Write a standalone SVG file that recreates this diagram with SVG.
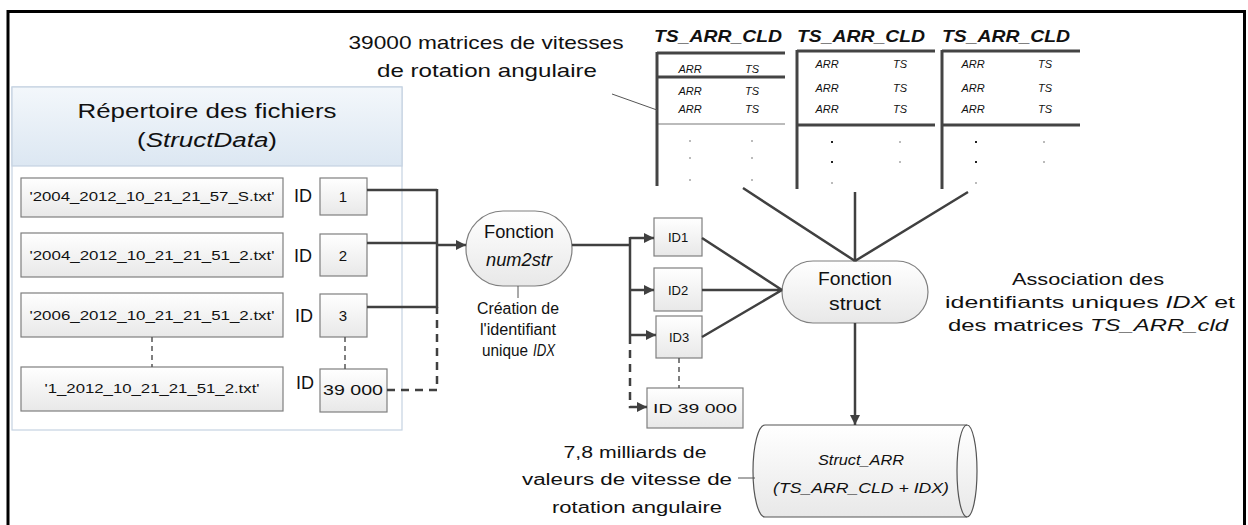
<svg xmlns="http://www.w3.org/2000/svg" width="1248" height="525" viewBox="0 0 1248 525">
<defs>
<linearGradient id="gBox" x1="0" y1="0" x2="0" y2="1"><stop offset="0" stop-color="#ffffff"/><stop offset="1" stop-color="#e8e8e8"/></linearGradient>
<linearGradient id="gHead" x1="0" y1="0" x2="0" y2="1"><stop offset="0" stop-color="#f3f7fb"/><stop offset="1" stop-color="#dce7f2"/></linearGradient>
<marker id="arr" viewBox="0 0 10 10" refX="10" refY="5" markerWidth="11" markerHeight="10" markerUnits="userSpaceOnUse" orient="auto"><path d="M0,0 L10,5 L0,10 z" fill="#404040"/></marker>
</defs>
<style>
.t{font-family:"Liberation Sans",Arial,sans-serif;fill:#111}
.lab{font-size:18px}
.sm{font-size:12px}
.tb{font-size:11px;font-style:italic}
.ttl{font-size:17px;font-weight:bold;font-style:italic}
.i{font-style:italic}
.box{fill:url(#gBox);stroke:#7f7f7f;stroke-width:1.2}
.c{fill:none;stroke:#404040;stroke-width:2.5}
.d{fill:none;stroke:#404040;stroke-width:2.5;stroke-dasharray:8,6}
.ds{fill:none;stroke:#555;stroke-width:1.5;stroke-dasharray:5,4}
.lead{fill:none;stroke:#555;stroke-width:1}
.tl{stroke:#444;stroke-width:3}
.tg{stroke:#bbb;stroke-width:2}
.dot{fill:#222}
.dotg{fill:#bbb}
</style>

<path d="M8,530 V11.5 H1244.5 V530" fill="none" stroke="#000" stroke-width="3"/>

<g id="repertoire">
<rect x="12" y="87" width="390" height="343" fill="#fff" stroke="#c5d3e2" stroke-width="1.2"/>
<rect x="12" y="87" width="390" height="79" fill="url(#gHead)" stroke="#c5d3e2" stroke-width="1.2"/>
<text class="t" x="207" y="118" font-size="20" text-anchor="middle" textLength="259" lengthAdjust="spacingAndGlyphs">Répertoire des fichiers</text>
<text class="t" x="207" y="147" font-size="20" text-anchor="middle" textLength="140" lengthAdjust="spacingAndGlyphs">(<tspan class="i">StructData</tspan>)</text>
</g>

<g id="file1"><rect class="box" x="21" y="178" width="262" height="39"/><text class="t sm" x="152" y="201" text-anchor="middle" textLength="245" lengthAdjust="spacingAndGlyphs">'2004_2012_10_21_21_57_S.txt'</text></g>
<g id="file2"><rect class="box" x="21" y="233" width="262" height="44"/><text class="t sm" x="152" y="260" text-anchor="middle" textLength="245" lengthAdjust="spacingAndGlyphs">'2004_2012_10_21_21_51_2.txt'</text></g>
<g id="file3"><rect class="box" x="21" y="293" width="262" height="44"/><text class="t sm" x="152" y="320" text-anchor="middle" textLength="245" lengthAdjust="spacingAndGlyphs">'2006_2012_10_21_21_51_2.txt'</text></g>
<g id="file4"><rect class="box" x="21" y="367" width="262" height="44"/><text class="t sm" x="152" y="393" text-anchor="middle" textLength="215" lengthAdjust="spacingAndGlyphs">'1_2012_10_21_21_51_2.txt'</text></g>

<g id="id1"><text class="t lab" x="303" y="202" text-anchor="middle">ID</text><rect class="box" x="320" y="178" width="47" height="37"/><text class="t" font-size="15" x="343" y="202" text-anchor="middle">1</text></g>
<g id="id2"><text class="t lab" x="303" y="262" text-anchor="middle">ID</text><rect class="box" x="320" y="234" width="47" height="42"/><text class="t" font-size="15" x="343" y="261" text-anchor="middle">2</text></g>
<g id="id3"><text class="t lab" x="304" y="322" text-anchor="middle">ID</text><rect class="box" x="320" y="294" width="47" height="43"/><text class="t" font-size="15" x="343" y="321" text-anchor="middle">3</text></g>
<g id="id4"><text class="t lab" x="305" y="389" text-anchor="middle">ID</text><rect class="box" x="320" y="369" width="67" height="43"/><text class="t" font-size="15" x="353" y="395" text-anchor="middle" textLength="60" lengthAdjust="spacingAndGlyphs">39 000</text></g>

<g id="titre">
<text class="t" x="486" y="49" font-size="19" text-anchor="middle" textLength="275" lengthAdjust="spacingAndGlyphs">39000 matrices de vitesses</text>
<text class="t" x="487" y="77" font-size="19" text-anchor="middle" textLength="220" lengthAdjust="spacingAndGlyphs">de rotation angulaire</text>
</g>

<g id="table1">
<text class="t ttl" x="654" y="42" textLength="128" lengthAdjust="spacingAndGlyphs">TS_ARR_CLD</text>
<line class="tl" x1="657" y1="53" x2="785" y2="53"/>
<line class="tl" x1="657" y1="77" x2="785" y2="77"/>
<line class="tg" x1="657" y1="124" x2="785" y2="124"/>
<line class="tl" x1="657" y1="52" x2="657" y2="186"/>
<text class="t tb" x="690" y="73" text-anchor="middle">ARR</text><text class="t tb" x="752" y="73" text-anchor="middle">TS</text>
<text class="t tb" x="690" y="95" text-anchor="middle" fill="#555">ARR</text><text class="t tb" x="752" y="95" text-anchor="middle">TS</text>
<text class="t tb" x="690" y="113" text-anchor="middle">ARR</text><text class="t tb" x="752" y="113" text-anchor="middle">TS</text>
<rect class="dotg" x="689" y="140" width="2" height="2"/><rect class="dotg" x="751" y="140" width="2" height="2"/>
<rect class="dotg" x="689" y="157" width="2" height="2"/><rect class="dotg" x="751" y="157" width="2" height="2"/>
<rect class="dotg" x="689" y="179" width="2" height="2"/><rect class="dotg" x="751" y="179" width="2" height="2"/>
</g>

<g id="table2">
<text class="t ttl" x="797" y="42" textLength="128" lengthAdjust="spacingAndGlyphs">TS_ARR_CLD</text>
<line class="tl" x1="797" y1="51" x2="935" y2="51"/>
<line class="tl" x1="797" y1="125" x2="935" y2="125"/>
<line class="tl" x1="797" y1="50" x2="797" y2="189"/>
<text class="t tb" x="827" y="68" text-anchor="middle" fill="#aaa">ARR</text><text class="t tb" x="900" y="68" text-anchor="middle" fill="#aaa">TS</text>
<text class="t tb" x="827" y="92" text-anchor="middle">ARR</text><text class="t tb" x="900" y="92" text-anchor="middle">TS</text>
<text class="t tb" x="827" y="113" text-anchor="middle">ARR</text><text class="t tb" x="900" y="113" text-anchor="middle">TS</text>
<rect class="dot" x="831" y="141" width="2" height="2"/><rect class="dotg" x="899" y="141" width="2" height="2"/>
<rect class="dot" x="831" y="161" width="2" height="2"/><rect class="dotg" x="899" y="161" width="2" height="2"/>
<rect class="dotg" x="831" y="182" width="2" height="2"/>
</g>

<g id="table3">
<text class="t ttl" x="942" y="42" textLength="128" lengthAdjust="spacingAndGlyphs">TS_ARR_CLD</text>
<line class="tl" x1="942" y1="51" x2="1080" y2="51"/>
<line class="tl" x1="942" y1="125" x2="1080" y2="125"/>
<line class="tl" x1="942" y1="50" x2="942" y2="189"/>
<text class="t tb" x="973" y="68" text-anchor="middle" fill="#aaa">ARR</text><text class="t tb" x="1045" y="68" text-anchor="middle" fill="#aaa">TS</text>
<text class="t tb" x="973" y="92" text-anchor="middle">ARR</text><text class="t tb" x="1045" y="92" text-anchor="middle">TS</text>
<text class="t tb" x="973" y="113" text-anchor="middle">ARR</text><text class="t tb" x="1045" y="113" text-anchor="middle">TS</text>
<rect class="dot" x="975" y="141" width="2" height="2"/><rect class="dotg" x="1043" y="141" width="2" height="2"/>
<rect class="dot" x="975" y="161" width="2" height="2"/><rect class="dotg" x="1043" y="161" width="2" height="2"/>
<rect class="dotg" x="975" y="182" width="2" height="2"/>
</g>

<g id="num2str">
<rect class="box" x="466" y="211" width="106" height="75" rx="37" ry="37" stroke="#666"/>
<text class="t lab" x="519" y="238" text-anchor="middle" textLength="70" lengthAdjust="spacingAndGlyphs">Fonction</text>
<text class="t lab i" x="519" y="266" text-anchor="middle" textLength="66" lengthAdjust="spacingAndGlyphs">num2str</text>
</g>
<g id="note-idx">
<text class="t" font-size="16" x="518" y="314" text-anchor="middle" textLength="82" lengthAdjust="spacingAndGlyphs">Création de</text>
<text class="t" font-size="16" x="518" y="335" text-anchor="middle" textLength="76" lengthAdjust="spacingAndGlyphs">l'identifiant</text>
<text class="t" font-size="16" x="482" y="356" textLength="46" lengthAdjust="spacingAndGlyphs">unique</text>
<text class="t i" font-size="16" x="533" y="356" textLength="22" lengthAdjust="spacingAndGlyphs">IDX</text>
</g>

<g id="idx1"><rect class="box" x="654" y="218" width="48" height="38"/><text class="t" font-size="13" x="678" y="242" text-anchor="middle">ID1</text></g>
<g id="idx2"><rect class="box" x="654" y="268" width="48" height="43"/><text class="t" font-size="13" x="678" y="295" text-anchor="middle">ID2</text></g>
<g id="idx3"><rect class="box" x="656" y="316" width="46" height="42"/><text class="t" font-size="13" x="679" y="342" text-anchor="middle">ID3</text></g>
<g id="idx4"><rect class="box" x="647" y="388" width="96" height="40"/><text class="t" font-size="13" x="695" y="413" text-anchor="middle" textLength="84" lengthAdjust="spacingAndGlyphs">ID 39 000</text></g>

<g id="struct">
<rect class="box" x="782" y="261" width="146" height="62" rx="31" ry="31" stroke="#666"/>
<text class="t lab" x="855" y="285" text-anchor="middle" textLength="74" lengthAdjust="spacingAndGlyphs">Fonction</text>
<text class="t lab" x="855" y="310" text-anchor="middle" textLength="52" lengthAdjust="spacingAndGlyphs">struct</text>
</g>
<g id="note-assoc">
<text class="t" font-size="17" x="1088" y="285" text-anchor="middle" textLength="152" lengthAdjust="spacingAndGlyphs">Association des</text>
<text class="t" font-size="17" x="1090" y="308" text-anchor="middle" textLength="290" lengthAdjust="spacingAndGlyphs">identifiants uniques <tspan class="i">IDX</tspan> et</text>
<text class="t" font-size="17" x="1088" y="331" text-anchor="middle" textLength="280" lengthAdjust="spacingAndGlyphs">des matrices <tspan class="i">TS_ARR_cld</tspan></text>
</g>

<g id="struct-arr">
<path d="M765,425 H967 A10,46 0 0 1 967,517 H765 A12,46 0 0 1 765,425 Z" fill="url(#gBox)" stroke="#555" stroke-width="1.2"/>
<path d="M967,425 A10,46 0 0 0 967,517" fill="none" stroke="#555" stroke-width="1.2"/>
<text class="t" font-size="14" x="861" y="465" text-anchor="middle" font-style="italic" textLength="86" lengthAdjust="spacingAndGlyphs">Struct_ARR</text>
<text class="t" font-size="14" x="861" y="493" text-anchor="middle" font-style="italic" textLength="176" lengthAdjust="spacingAndGlyphs">(TS_ARR_CLD + IDX)</text>
</g>
<g id="note-vals">
<text class="t" font-size="16" x="635" y="458" text-anchor="middle" textLength="143" lengthAdjust="spacingAndGlyphs">7,8 milliards de</text>
<text class="t" font-size="16" x="627" y="485" text-anchor="middle" textLength="210" lengthAdjust="spacingAndGlyphs">valeurs de vitesse de</text>
<text class="t" font-size="16" x="637" y="513" text-anchor="middle" textLength="170" lengthAdjust="spacingAndGlyphs">rotation angulaire</text>
</g>

<g id="connectors">
<path class="c" d="M367,190 H437 M367,243 H437 M367,307 H437 M437,189 V308"/>
<path class="d" d="M387,390 H437 V307"/>
<path class="c" d="M437,245 H466" marker-end="url(#arr)"/>
<path class="c" d="M572,245 H630 M630,237 V336"/>
<path class="c" d="M630,238 H654" marker-end="url(#arr)"/>
<path class="c" d="M630,290 H654" marker-end="url(#arr)"/>
<path class="c" d="M630,335 H656" marker-end="url(#arr)"/>
<path class="d" d="M630,336 V407 H647" marker-end="url(#arr)"/>
<path class="ds" d="M679,358 V388 M152,337 V367 M345,337 V369"/>
<path class="c" d="M702,238 L782,290 M702,290 H782 M702,337 L782,290"/>
<path class="c" d="M743,188 L855,261 M855,192 V261 M968,192 L855,261"/>
<path class="c" d="M855,323 V425" marker-end="url(#arr)"/>
<path class="lead" d="M518,286 V298 M738,478 H755 M612,94 L657,110"/>
</g>
</svg>
